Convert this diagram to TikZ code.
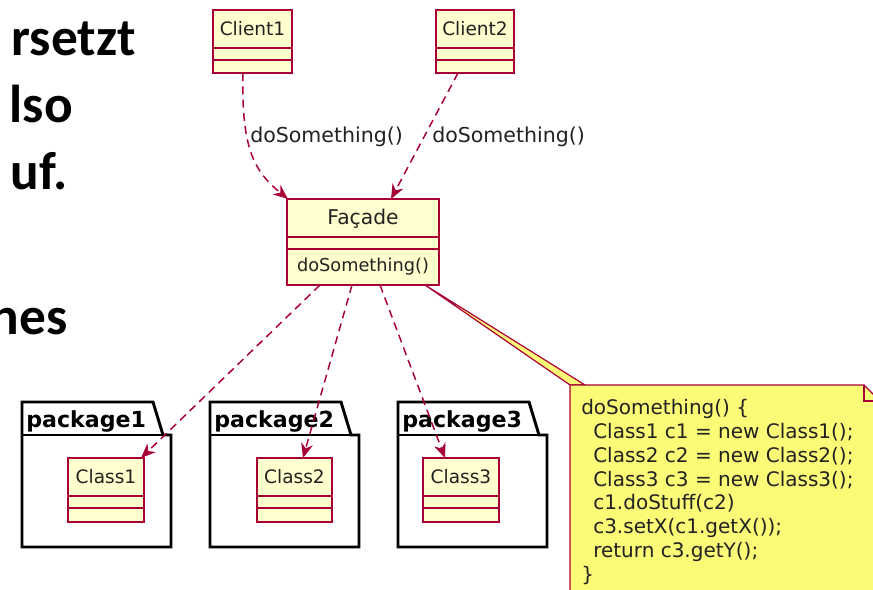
\documentclass[tikz,border=0pt]{standalone}
\usepackage{fontspec}
\usetikzlibrary{calc,arrows.meta}
\newfontfamily\umlfont{DejaVu Sans}
\newfontfamily\slidefont{Carlito}
\definecolor{umlred}{HTML}{A80036}
\definecolor{umlfill}{HTML}{FEFECE}
\definecolor{notefill}{HTML}{FBFB77}
\definecolor{umltext}{HTML}{222222}

\tikzset{
  classbox/.style={draw=umlred, fill=umlfill, line width=1.1pt, inner sep=0pt, outer sep=0pt},
  classname/.style={font=\umlfont\fontsize{13.9}{16}\selectfont, text=umltext, inner sep=0pt},
  opname/.style={font=\umlfont\fontsize{13.3}{15}\selectfont, text=umltext, inner sep=0pt},
  compline/.style={umlred, line width=1.1pt},
  dep/.style={umlred, line width=1.1pt, dash pattern=on 6pt off 4pt},
  deplabel/.style={font=\umlfont\fontsize{15.4}{18}\selectfont, text=umltext, inner sep=0pt, anchor=west},
  pkgline/.style={line width=2.2pt, line join=miter},
  pkgname/.style={font=\umlfont\bfseries\fontsize{16.6}{19}\selectfont, inner sep=0pt, anchor=base west},
  notebox/.style={draw=umlred, fill=notefill, line width=1pt},
  notetext/.style={font=\umlfont\fontsize{15}{17.9}\selectfont, text=umltext, align=left, anchor=north west, inner sep=0pt},
  slide/.style={font=\slidefont\bfseries\fontsize{40}{42}\selectfont, inner sep=0pt, anchor=base east},
}

% lớp UML: tên, x, y, rộng, cao, chữ
\newcommand{\umlclass}[6]{%
  \node[classbox, minimum width=#4*0.75pt, minimum height=#5*0.75pt] (#1) at (#2,#3) {};
  \node[classname] (#1-name) at ($(#1.north)+(0,19)$) {#6};
  \draw[compline] ($(#1.north west)+(0,38)$) -- ($(#1.north east)+(0,38)$);
  \draw[compline] ($(#1.north west)+(0,50)$) -- ($(#1.north east)+(0,50)$);
}

% gói: tên, x trái, chữ
\newcommand{\umlpkg}[3]{%
  \draw[pkgline, fill=white] (#2,547) -- (#2,402) -- (#2+131,402) -- (#2+141,435)
      -- (#2+149,435) -- (#2+149,547) -- cycle;
  \draw[pkgline] (#2,435) -- (#2+141,435);
  \node[pkgname] (#1) at (#2+4,427) {#3};
}

\begin{document}
\begin{tikzpicture}[x=0.75pt, y=-0.75pt, >={Stealth[length=11pt, width=9pt, inset=3.5pt]}]
    \useasboundingbox (0,0) rectangle (873,589);

    % Chữ trên slide
    \node[slide] (t1) at (136,55) {rsetzt};
    \node[slide] (t2) at (73,122) {lso};
    \node[slide] (t3) at (68,189) {uf.};
    \node[slide] (t4) at (68,334) {nes};

    % Các gói
    \umlpkg{pkg1}{22}{package1}
    \umlpkg{pkg2}{210}{package2}
    \umlpkg{pkg3}{398}{package3}

    % Các lớp
    \umlclass{client1}{252.5}{41.5}{79}{63}{Client1}
    \umlclass{client2}{475}{41.5}{78}{63}{Client2}
    \umlclass{facade}{363}{242}{152}{86}{}
    \node[classname, font=\umlfont\fontsize{15.2}{17}\selectfont] (facade-title) at ($(facade.north)+(0,20)$) {Façade};
    \node[opname] (facade-op) at ($(facade.north)+(0,68)$) {doSomething()};
    \umlclass{class1}{106}{490}{76}{64}{Class1}
    \umlclass{class2}{294.5}{490}{75}{64}{Class2}
    \umlclass{class3}{461}{490}{76}{64}{Class3}

    % Ghi chú
    \coordinate (notec) at (570,385);
    \filldraw[notebox, line width=0.9pt] ($(facade.south east)+(-14,0)$) -- (notec) -- ($(notec)+(15,0)$) -- cycle;
    \draw[notebox] (notec) -- (864,385) -- (880,401) -- (880,600) -- (570,600) -- cycle;
    \draw[notebox, fill=none] (864,385) -- (864,401) -- (880,401);
    \node[notetext] (note) at (581,399) {doSomething() \{\\
      \hspace*{9pt}Class1 c1 = new Class1();\\
      \hspace*{9pt}Class2 c2 = new Class2();\\
      \hspace*{9pt}Class3 c3 = new Class3();\\
      \hspace*{9pt}c1.doStuff(c2)\\
      \hspace*{9pt}c3.setX(c1.getX());\\
      \hspace*{9pt}return c3.getY();\\
      \}};

    % Mũi tên
    \draw[dep, ->] ($(client1.south)+(-9.5,0)$) .. controls (241,150) and (255,172) .. ($(facade.north west)+(1,0)$);
    \draw[dep, ->] ($(client2.south)+(-17,0)$) -- ($(facade.north)+(28,0)$);
    \node[deplabel] (lbl1) at (250,137) {doSomething()};
    \node[deplabel] (lbl2) at (432,137) {doSomething()};
    \draw[dep, ->] ($(facade.south)+(-43,0)$) -- ($(class1.north east)+(-3,0)$);
    \draw[dep, ->] ($(facade.south)+(-11,0)$) -- ($(class2.north)+(8.5,0)$);
    \draw[dep, ->] ($(facade.south)+(17,0)$) -- ($(class3.north)+(-16,0)$);
\end{tikzpicture}
\end{document}
